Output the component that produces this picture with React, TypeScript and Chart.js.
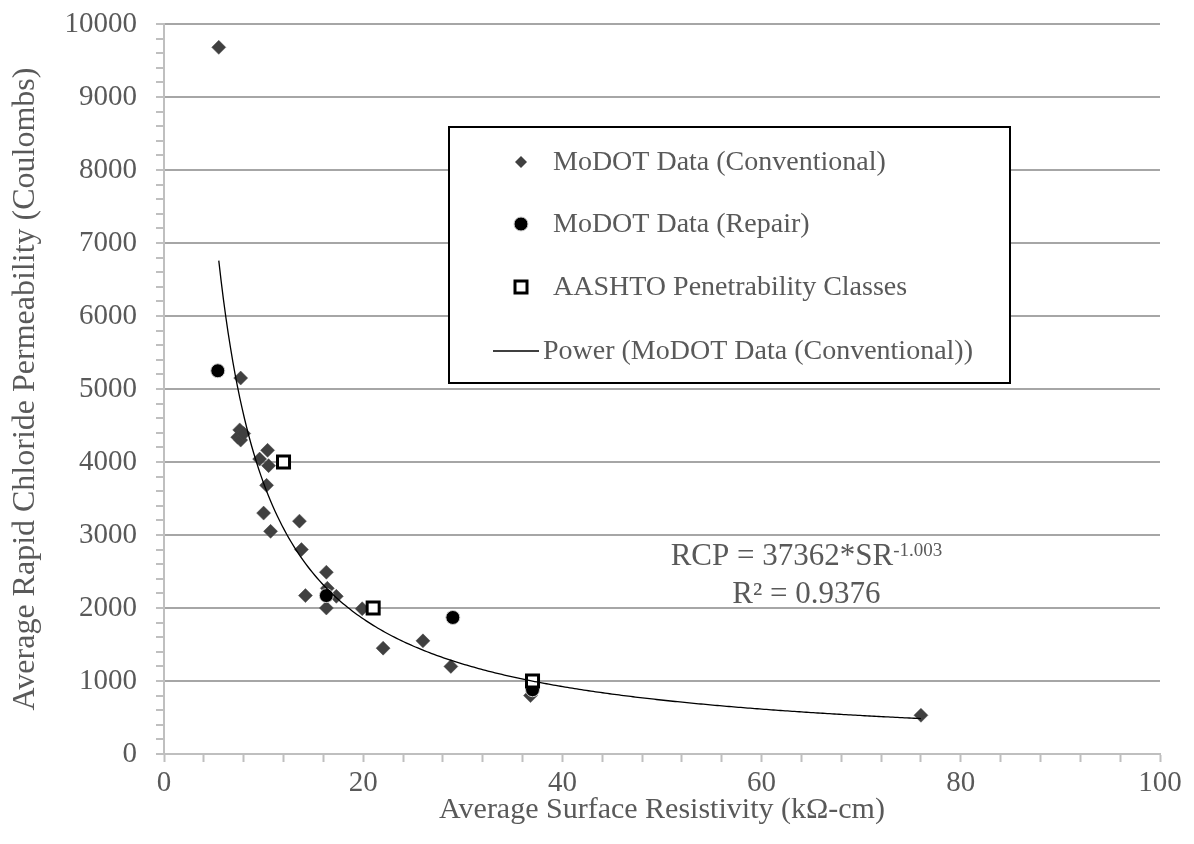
import React, { useEffect, useRef } from "react";
import { Chart, registerables } from "chart.js";

Chart.register(...registerables);

// ---------- data ----------
const CONV_X = [5.5, 7.7, 7.6, 7.4, 7.7, 8.0, 9.6, 10.4, 10.5, 10.3, 10.0, 10.7, 13.6, 13.8, 16.3, 16.4, 14.2, 16.3, 17.3, 19.9, 22.0, 26.0, 28.8, 36.8, 76.0];
const CONV_Y = [9680, 5150, 4440, 4340, 4300, 4390, 4040, 4160, 3950, 3680, 3300, 3050, 3190, 2800, 2490, 2270, 2170, 2000, 2160, 1990, 1450, 1550, 1200, 800, 530];
const REPAIR_X = [5.4, 16.3, 29.0, 37.0];
const REPAIR_Y = [5250, 2170, 1870, 880];
const AASHTO_X = [12, 21, 37];
const AASHTO_Y = [4000, 2000, 1000];

// power trendline shown on the chart: RCP = 37362 * SR^-1.003
const TREND_A = 37362;
const TREND_B = -1.003;
const TREND_R2 = "0.9376";
const TREND_SAMPLES = 300;

const SERIES_LABELS = [
  "MoDOT Data (Conventional)",
  "MoDOT Data (Repair)",
  "AASHTO Penetrability Classes",
  "Power (MoDOT Data (Conventional))",
];
const X_TITLE = "Average Surface Resistivity (kΩ-cm)";
const Y_TITLE = "Average Rapid Chloride Permeability (Coulombs)";
const X_MIN = 0, X_MAX = 100, X_MAJOR = 20, X_MINOR = 4;
const Y_MIN = 0, Y_MAX = 10000, Y_MAJOR = 1000, Y_MINOR = 200;

// ---------- style ----------
const FONT = "'Liberation Serif', 'Times New Roman', serif";
const TEXT = "#595959";
const GRID = "#a6a6a6";
const AXIS = "#bfbfbf";

const toPoints = (xs: number[], ys: number[]) => xs.map((x, i) => ({ x, y: ys[i] }));

function trendPoints() {
  const lo = Math.min(...CONV_X);
  const hi = Math.max(...CONV_X);
  const pts = [] as { x: number; y: number }[];
  for (let i = 0; i <= TREND_SAMPLES; i++) {
    const x = lo + ((hi - lo) * i) / TREND_SAMPLES;
    pts.push({ x, y: TREND_A * Math.pow(x, TREND_B) });
  }
  return pts;
}

function drawMarker(ctx: CanvasRenderingContext2D, kind: string, x: number, y: number) {
  ctx.save();
  if (kind === "diamond") {
    const r = 6;
    ctx.beginPath();
    ctx.moveTo(x - r, y);
    ctx.lineTo(x, y - r);
    ctx.lineTo(x + r, y);
    ctx.lineTo(x, y + r);
    ctx.closePath();
    ctx.fillStyle = "#404040";
    ctx.fill();
  } else if (kind === "circle") {
    ctx.beginPath();
    ctx.arc(x, y, 7, 0, Math.PI * 2);
    ctx.fillStyle = "#000";
    ctx.fill();
    ctx.lineWidth = 1;
    ctx.strokeStyle = "#d0d0d0";
    ctx.stroke();
  } else if (kind === "square") {
    const s = 12;
    ctx.fillStyle = "#fff";
    ctx.fillRect(x - s / 2, y - s / 2, s, s);
    ctx.lineWidth = 3;
    ctx.strokeStyle = "#000";
    ctx.strokeRect(x - s / 2, y - s / 2, s, s);
  } else if (kind === "line") {
    ctx.beginPath();
    ctx.moveTo(x - 28, y);
    ctx.lineTo(x + 18, y);
    ctx.lineWidth = 1.3;
    ctx.strokeStyle = "#000";
    ctx.stroke();
  }
  ctx.restore();
}

const legendPlugin = {
  id: "customLegend",
  afterDraw(chart: any) {
    const { ctx, chartArea } = chart;
    const left = chartArea.left + 285;
    const top = chartArea.top + 103;
    const w = 561;
    const h = 256;
    ctx.save();
    ctx.fillStyle = "#fff";
    ctx.fillRect(left, top, w, h);
    ctx.lineWidth = 2;
    ctx.strokeStyle = "#000";
    ctx.strokeRect(left, top, w, h);
    const kinds = ["diamond", "circle", "square", "line"];
    const rowY = [35, 97, 160, 224];
    ctx.font = `28px ${FONT}`;
    ctx.fillStyle = TEXT;
    ctx.textBaseline = "middle";
    ctx.textAlign = "left";
    kinds.forEach((k, i) => {
      const y = top + rowY[i];
      drawMarker(ctx, k, left + 72, y);
      ctx.fillStyle = TEXT;
      const tx = k === "line" ? left + 94 : left + 104;
      ctx.fillText(SERIES_LABELS[i], tx, y + 1);
    });
    ctx.restore();
  },
};

const equationPlugin = {
  id: "equationLabel",
  afterDatasetsDraw(chart: any) {
    const { ctx } = chart;
    const xs = chart.scales.x;
    const ys = chart.scales.y;
    const cx = xs.getPixelForValue(64.5);
    const base1 = ys.getPixelForValue(2585);
    const base2 = ys.getPixelForValue(2065);
    const mainSize = 31;
    const supSize = 19;
    const main = `RCP = ${TREND_A}*SR`;
    const sup = `${TREND_B}`;
    ctx.save();
    ctx.fillStyle = TEXT;
    ctx.textBaseline = "alphabetic";
    ctx.textAlign = "left";
    ctx.font = `${mainSize}px ${FONT}`;
    const wMain = ctx.measureText(main).width;
    ctx.font = `${supSize}px ${FONT}`;
    const wSup = ctx.measureText(sup).width;
    const start = cx - (wMain + wSup) / 2;
    ctx.font = `${mainSize}px ${FONT}`;
    ctx.fillText(main, start, base1);
    ctx.font = `${supSize}px ${FONT}`;
    ctx.fillText(sup, start + wMain, base1 - 9);
    ctx.font = `${mainSize}px ${FONT}`;
    ctx.textAlign = "center";
    ctx.fillText(`R² = ${TREND_R2}`, cx, base2);
    ctx.restore();
  },
};

export default function App() {
  const canvasRef = useRef<HTMLCanvasElement | null>(null);

  useEffect(() => {
    if (!canvasRef.current) return;
    const chart = new Chart(canvasRef.current, {
      type: "scatter",
      data: {
        datasets: [
          {
            label: SERIES_LABELS[3],
            data: trendPoints(),
            showLine: true,
            pointRadius: 0,
            pointHoverRadius: 0,
            borderColor: "#000",
            borderWidth: 1.3,
            fill: false,
            order: 0,
          },
          {
            label: SERIES_LABELS[2],
            data: toPoints(AASHTO_X, AASHTO_Y),
            pointStyle: "rect",
            pointRadius: 8.5,
            backgroundColor: "#fff",
            borderColor: "#000",
            borderWidth: 3,
            order: 1,
          },
          {
            label: SERIES_LABELS[1],
            data: toPoints(REPAIR_X, REPAIR_Y),
            pointStyle: "circle",
            pointRadius: 7,
            backgroundColor: "#000",
            borderColor: "#d0d0d0",
            borderWidth: 1,
            order: 2,
          },
          {
            label: SERIES_LABELS[0],
            data: toPoints(CONV_X, CONV_Y),
            pointStyle: "rectRot",
            pointRadius: 7,
            backgroundColor: "#404040",
            borderColor: "#4a4a4a",
            borderWidth: 0.5,
            order: 3,
          },
        ],
      },
      options: {
        animation: false,
        responsive: true,
        maintainAspectRatio: false,
        layout: { padding: { top: 24, left: 0, right: 34, bottom: 0 } },
        plugins: {
          legend: { display: false },
          tooltip: { enabled: false },
        },
        scales: {
          x: {
            type: "linear",
            min: X_MIN,
            max: X_MAX,
            afterFit: (s: any) => {
              s.height = 90;
              s.paddingTop = 0;
              s.paddingBottom = 0;
            },
            ticks: {
              stepSize: X_MINOR,
              autoSkip: false,
              maxRotation: 0,
              padding: 4,
              color: TEXT,
              font: { family: FONT, size: 29 },
              callback: (v: any) => (Number(v) % X_MAJOR === 0 ? String(v) : ""),
            },
            grid: {
              drawOnChartArea: false,
              drawTicks: true,
              tickLength: 8,
              tickColor: AXIS,
              tickWidth: 2,
            },
            border: { display: true, color: AXIS, width: 2 },
            title: {
              display: true,
              text: X_TITLE,
              color: TEXT,
              font: { family: FONT, size: 30 },
              padding: { top: 0, bottom: 16 },
            },
          },
          y: {
            type: "linear",
            min: Y_MIN,
            max: Y_MAX,
            afterFit: (s: any) => {
              s.width = 164;
              s.paddingTop = 0;
              s.paddingBottom = 0;
            },
            ticks: {
              stepSize: Y_MINOR,
              autoSkip: false,
              padding: 19,
              color: TEXT,
              font: { family: FONT, size: 29 },
              callback: (v: any) => (Number(v) % Y_MAJOR === 0 ? String(v) : ""),
            },
            grid: {
              drawOnChartArea: true,
              drawTicks: true,
              tickLength: 8,
              tickColor: AXIS,
              tickWidth: 2,
              lineWidth: 2,
              color: (c: any) =>
                c.tick && c.tick.value % Y_MAJOR === 0 && c.tick.value !== 0 ? GRID : "rgba(0,0,0,0)",
            },
            border: { display: true, color: AXIS, width: 2 },
            title: {
              display: true,
              text: Y_TITLE,
              color: TEXT,
              font: { family: FONT, size: 32 },
              padding: { top: 6, bottom: 0 },
            },
          },
        },
      },
      plugins: [equationPlugin, legendPlugin],
    } as any);
    return () => chart.destroy();
  }, []);

  return (
    <div style={{ position: "fixed", left: 0, top: 0, width: 1194, height: 844, background: "#fff" }}>
      <canvas ref={canvasRef} />
    </div>
  );
}
